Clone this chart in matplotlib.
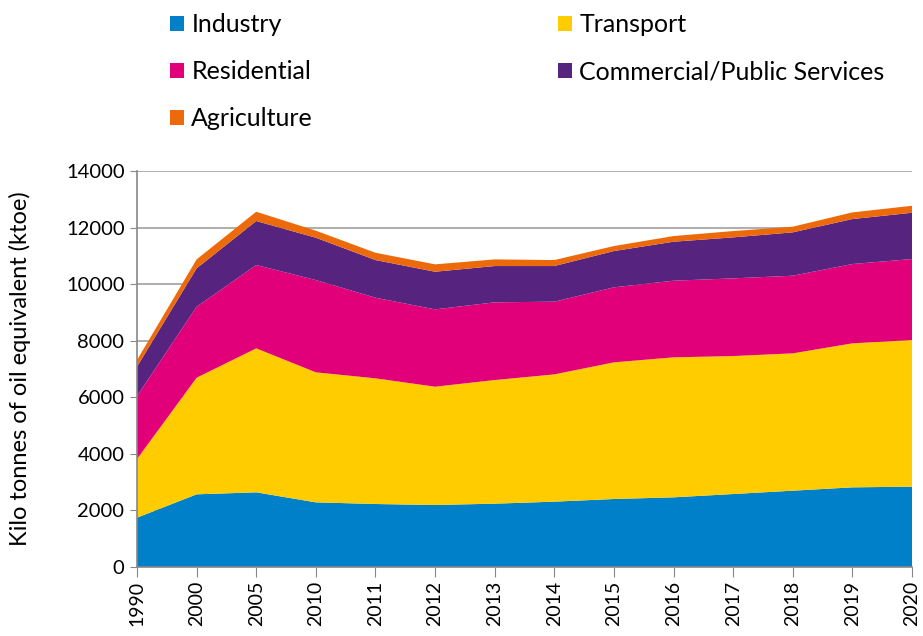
import matplotlib
matplotlib.use("Agg")
import matplotlib.pyplot as plt
from matplotlib.patches import Patch
import numpy as np

plt.rcParams['font.family'] = ['Lato', 'DejaVu Sans']

years = ["1990", "2000", "2005", "2010", "2011", "2012", "2013", "2014",
         "2015", "2016", "2017", "2018", "2019", "2020"]
industry = [1743, 2569, 2640, 2286, 2227, 2192, 2239, 2310, 2404, 2463, 2580, 2698, 2816, 2840]
transport = [2074, 4123, 5090, 4596, 4443, 4182, 4371, 4500, 4831, 4949, 4878, 4855, 5091, 5184]
residential = [2228, 2510, 2945, 3263, 2850, 2734, 2747, 2570, 2652, 2710, 2746, 2745, 2804, 2863]
commercial = [1037, 1356, 1556, 1496, 1332, 1331, 1283, 1260, 1283, 1378, 1449, 1533, 1590, 1637]
agriculture = [235, 317, 329, 248, 258, 261, 235, 212, 177, 200, 224, 200, 236, 247]

labels = ["Industry", "Transport", "Residential", "Commercial/Public Services", "Agriculture"]
colors = ["#0080C8", "#FFCC00", "#E2007A", "#56237F", "#EC6A0A"]

fig = plt.figure(figsize=(9.23, 6.36), dpi=100)
ax = fig.add_axes([137/923, 1-567/636, (912-137)/923, (567-171)/636])

x = np.arange(len(years))
ax.stackplot(x, industry, transport, residential, commercial, agriculture,
             colors=colors, linewidth=0, zorder=2)

ax.set_xlim(0, len(years)-1)
ax.set_ylim(0, 14000)
ax.set_yticks(np.arange(0, 14001, 2000))
ax.set_xticks(x)
ax.set_xticklabels(years, rotation=90, fontsize=14)
ax.tick_params(axis='y', labelsize=14.5, length=5, color='#888888', pad=4)
ax.tick_params(axis='x', length=7, color='#888888', pad=3)
ax.grid(axis='y', color='#A0A0A0', linewidth=1.2, zorder=1)
for s in ['top', 'right']:
    ax.spines[s].set_visible(False)
for s in ['left', 'bottom']:
    ax.spines[s].set_color('#888888')
    ax.spines[s].set_linewidth(1.2)
ax.set_ylabel("Kilo tonnes of oil equivalent (ktoe)", fontsize=17)
ax.yaxis.set_label_coords(-106/775, 0.5)

handles = [Patch(facecolor=c, edgecolor='none') for c in colors]
order = [0, 2, 4, 1, 3]
fig.legend([handles[i] for i in order], [labels[i] for i in order],
           loc='upper left', bbox_to_anchor=(170/923, 1-13/636), ncol=2,
           frameon=False, fontsize=18, handlelength=0.55, handleheight=0.55,
           handletextpad=0.3, labelspacing=0.97, columnspacing=9.8,
           borderpad=0, borderaxespad=0)

fig.savefig("out.png", dpi=100)
